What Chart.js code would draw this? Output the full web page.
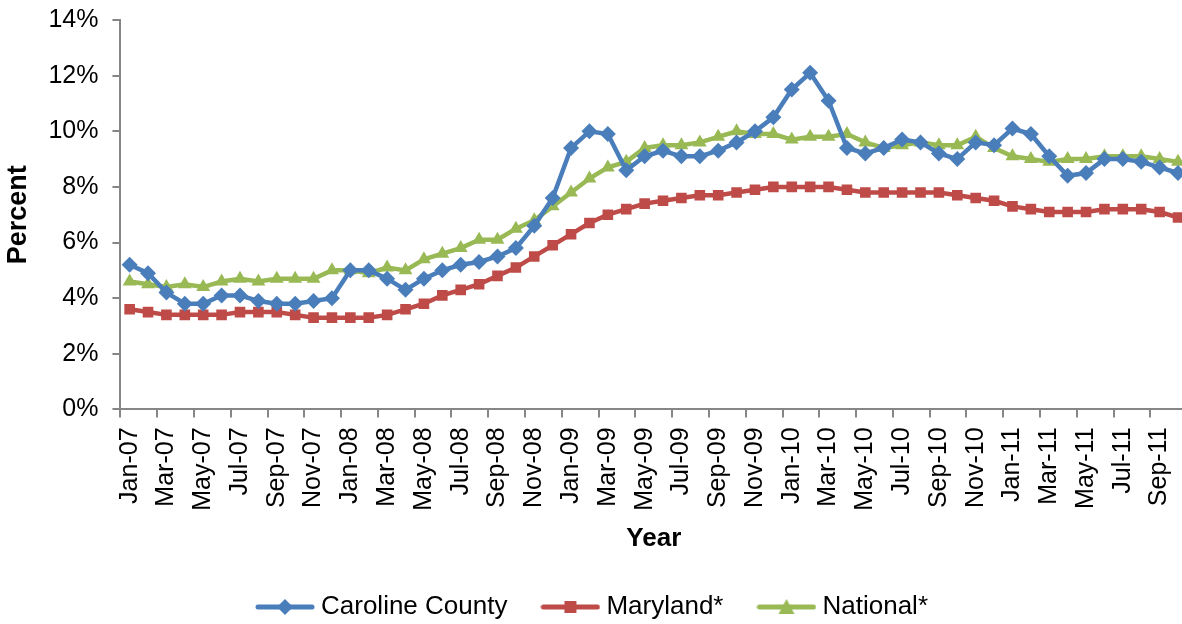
<!DOCTYPE html>
<html>
<head>
<meta charset="utf-8">
<script src="https://cdn.jsdelivr.net/npm/chart.js@4/dist/chart.umd.min.js"></script>
<style>
  html, body { margin: 0; padding: 0; background: #fff; overflow: hidden; }
  #wrap { width: 1218px; height: 630px; position: relative; }
</style>
</head>
<body>
<div id="wrap"><canvas id="unempChart"></canvas></div>
<script>
// Monthly unemployment rate, Jan-07 .. Oct-11
const months = [
  'Jan-07','Feb-07','Mar-07','Apr-07','May-07','Jun-07','Jul-07','Aug-07','Sep-07','Oct-07','Nov-07','Dec-07',
  'Jan-08','Feb-08','Mar-08','Apr-08','May-08','Jun-08','Jul-08','Aug-08','Sep-08','Oct-08','Nov-08','Dec-08',
  'Jan-09','Feb-09','Mar-09','Apr-09','May-09','Jun-09','Jul-09','Aug-09','Sep-09','Oct-09','Nov-09','Dec-09',
  'Jan-10','Feb-10','Mar-10','Apr-10','May-10','Jun-10','Jul-10','Aug-10','Sep-10','Oct-10','Nov-10','Dec-10',
  'Jan-11','Feb-11','Mar-11','Apr-11','May-11','Jun-11','Jul-11','Aug-11','Sep-11','Oct-11'
];

const caroline = [
  5.2, 4.9, 4.2, 3.8, 3.8, 4.1, 4.1, 3.9, 3.8, 3.8, 3.9, 4.0,
  5.0, 5.0, 4.7, 4.3, 4.7, 5.0, 5.2, 5.3, 5.5, 5.8, 6.6, 7.6,
  9.4, 10.0, 9.9, 8.6, 9.1, 9.3, 9.1, 9.1, 9.3, 9.6, 10.0, 10.5,
  11.5, 12.1, 11.1, 9.4, 9.2, 9.4, 9.7, 9.6, 9.2, 9.0, 9.6, 9.5,
  10.1, 9.9, 9.1, 8.4, 8.5, 9.0, 9.0, 8.9, 8.7, 8.5
];

const maryland = [
  3.6, 3.5, 3.4, 3.4, 3.4, 3.4, 3.5, 3.5, 3.5, 3.4, 3.3, 3.3,
  3.3, 3.3, 3.4, 3.6, 3.8, 4.1, 4.3, 4.5, 4.8, 5.1, 5.5, 5.9,
  6.3, 6.7, 7.0, 7.2, 7.4, 7.5, 7.6, 7.7, 7.7, 7.8, 7.9, 8.0,
  8.0, 8.0, 8.0, 7.9, 7.8, 7.8, 7.8, 7.8, 7.8, 7.7, 7.6, 7.5,
  7.3, 7.2, 7.1, 7.1, 7.1, 7.2, 7.2, 7.2, 7.1, 6.9
];

const national = [
  4.6, 4.5, 4.4, 4.5, 4.4, 4.6, 4.7, 4.6, 4.7, 4.7, 4.7, 5.0,
  5.0, 4.9, 5.1, 5.0, 5.4, 5.6, 5.8, 6.1, 6.1, 6.5, 6.8, 7.3,
  7.8, 8.3, 8.7, 8.9, 9.4, 9.5, 9.5, 9.6, 9.8, 10.0, 9.9, 9.9,
  9.7, 9.8, 9.8, 9.9, 9.6, 9.4, 9.5, 9.6, 9.5, 9.5, 9.8, 9.4,
  9.1, 9.0, 8.9, 9.0, 9.0, 9.1, 9.1, 9.1, 9.0, 8.9
];

const BLUE = '#4a7ebb';
const RED = '#be4b48';
const GREEN = '#98b954';
const AXIS = '#868686';
const FONT = "'Liberation Sans', Arial, sans-serif";

// legend swatch: short line with the marker in the middle
function swatch(color, style) {
  const c = document.createElement('canvas');
  c.width = 60; c.height = 18;
  const g = c.getContext('2d');
  g.strokeStyle = color;
  g.lineWidth = 5;
  g.lineCap = 'round';
  g.beginPath(); g.moveTo(3, 9); g.lineTo(57, 9); g.stroke();
  g.fillStyle = color;
  g.beginPath();
  if (style === 'rectRot') {
    g.moveTo(30, 1); g.lineTo(38, 9); g.lineTo(30, 17); g.lineTo(22, 9);
  } else if (style === 'rect') {
    g.rect(24, 3, 12, 12);
  } else {
    g.moveTo(30, 1); g.lineTo(38, 16); g.lineTo(22, 16);
  }
  g.closePath(); g.fill();
  return c;
}

function series(label, data, color, style, radius) {
  return {
    label: label,
    data: data,
    borderColor: color,
    backgroundColor: color,
    borderWidth: 4.5,
    pointStyle: style,
    pointRadius: radius,
    pointHoverRadius: radius,
    pointBorderWidth: 0,
    tension: 0,
    legendSwatch: swatch(color, style)
  };
}

// nudge the legend left, like the original
const legendShift = {
  id: 'legendShift',
  afterLayout(chart) {
    chart.legend.left -= 15;
    chart.legend.right -= 15;
  }
};

const ctx = document.getElementById('unempChart').getContext('2d');
new Chart(ctx, {
  type: 'line',
  data: {
    labels: months,
    datasets: [
      series('Caroline County', caroline, BLUE, 'rectRot', 8),
      series('Maryland*', maryland, RED, 'rect', 7.5),
      series('National*', national, GREEN, 'triangle', 8)
    ]
  },
  plugins: [legendShift],
  options: {
    responsive: true,
    maintainAspectRatio: false,
    animation: false,
    layout: { autoPadding: false, padding: { top: 0, right: 0, left: 2, bottom: 0 } },
    plugins: {
      tooltip: { enabled: false },
      legend: {
        position: 'bottom',
        labels: {
          usePointStyle: true,
          pointStyleWidth: 46,
          padding: 40,
          color: '#000',
          font: { family: FONT, size: 26 },
          generateLabels: function(chart) {
            return chart.data.datasets.map((ds, i) => ({
              text: ds.label,
              fillStyle: ds.borderColor,
              strokeStyle: ds.borderColor,
              lineWidth: 0,
              pointStyle: ds.legendSwatch,
              hidden: false,
              datasetIndex: i
            }));
          }
        }
      }
    },
    scales: {
      x: {
        offset: true,
        grid: {
          offset: true,
          drawOnChartArea: false,
          tickLength: 8,
          lineWidth: 2,
          color: (c) => (c.index % 2 === 0 ? AXIS : 'rgba(0,0,0,0)')
        },
        border: { color: AXIS, width: 2 },
        ticks: {
          autoSkip: false,
          minRotation: 90,
          maxRotation: 90,
          padding: 10,
          color: '#000',
          font: { family: FONT, size: 25 },
          callback: function(v, i) { return i % 2 === 0 ? months[i] : ''; }
        },
        title: {
          display: true,
          text: 'Year',
          color: '#000',
          font: { family: FONT, size: 26, weight: 'bold' },
          padding: { top: 2, bottom: 0 }
        }
      },
      y: {
        min: 0,
        max: 14,
        afterFit: function(axis) {
          axis.paddingTop = 20;
        },
        grid: {
          drawOnChartArea: false,
          tickLength: 8,
          lineWidth: 2,
          color: AXIS
        },
        border: { color: AXIS, width: 2 },
        ticks: {
          stepSize: 2,
          padding: 14,
          color: '#000',
          font: { family: FONT, size: 25 },
          callback: (v) => v + '%'
        },
        title: {
          display: true,
          text: 'Percent',
          color: '#000',
          font: { family: FONT, size: 27, weight: 'bold' },
          padding: { top: 0, bottom: 0 }
        }
      }
    }
  }
});
</script>
</body>
</html>
